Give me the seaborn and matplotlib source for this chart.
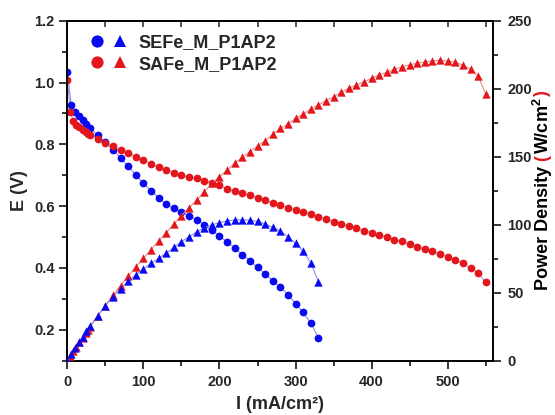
import matplotlib
matplotlib.use("Agg")
import matplotlib.pyplot as plt
import seaborn as sns
import pandas as pd
from matplotlib.lines import Line2D
from matplotlib.legend_handler import HandlerTuple
from matplotlib.ticker import MultipleLocator

# ---------------- data ----------------
se_current = [0, 5, 10, 15, 20, 25, 30, 40, 50, 60, 70, 80, 90, 100, 110, 120, 130, 140,
              150, 160, 170, 180, 190, 200, 210, 220, 230, 240, 250, 260, 270, 280, 290,
              300, 310, 320, 330]
se_voltage = [1.035, 0.928, 0.906, 0.892, 0.879, 0.867, 0.852, 0.829, 0.806, 0.783, 0.756,
              0.729, 0.700, 0.674, 0.650, 0.627, 0.606, 0.594, 0.582, 0.568, 0.555, 0.540,
              0.522, 0.503, 0.484, 0.465, 0.443, 0.424, 0.402, 0.381, 0.359, 0.338, 0.314,
              0.285, 0.256, 0.222, 0.175]
se_power = [0, 4.6, 9.2, 13.4, 17.6, 21.7, 25.6, 33.2, 40.3, 47.0, 53.0, 58.4, 63.1, 67.6,
            71.6, 75.4, 79.0, 83.3, 87.5, 91.2, 94.6, 97.6, 99.8, 101.6, 102.8, 103.6, 103.6,
            103.3, 102.4, 100.5, 98.0, 95.4, 91.2, 86.2, 80.5, 72.0, 58.2]

sa_current = [0, 4, 8, 12, 16, 20, 24, 27, 30, 40, 50, 60, 70, 80, 90, 100, 110, 120, 130,
              140, 150, 160, 170, 180, 190, 200, 210, 220, 230, 240, 250, 260, 270, 280, 290,
              300, 310, 320, 330, 340, 350, 360, 370, 380, 390, 400, 410, 420, 430, 440, 450,
              460, 470, 480, 490, 500, 510, 520, 530, 540, 550]
sa_voltage = [1.008, 0.906, 0.874, 0.863, 0.856, 0.847, 0.840, 0.833, 0.831, 0.817, 0.804,
              0.794, 0.783, 0.772, 0.759, 0.749, 0.737, 0.726, 0.716, 0.708, 0.700, 0.695,
              0.690, 0.683, 0.676, 0.667, 0.656, 0.649, 0.643, 0.635, 0.627, 0.619, 0.611,
              0.603, 0.595, 0.588, 0.581, 0.574, 0.565, 0.558, 0.550, 0.543, 0.536, 0.528,
              0.521, 0.514, 0.507, 0.499, 0.492, 0.486, 0.477, 0.469, 0.461, 0.454, 0.445,
              0.437, 0.426, 0.415, 0.400, 0.384, 0.354]
sa_power = [0, 3.6, 7.0, 10.4, 13.7, 16.9, 20.2, 22.5, 24.9, 32.9, 40.5, 48.0, 55.2, 62.3,
            68.9, 75.4, 81.6, 88.0, 94.2, 100.3, 106.6, 112.6, 118.0, 124.3, 130.4, 135.3,
            140.2, 145.1, 149.6, 153.7, 157.9, 161.8, 166.4, 170.9, 174.0, 178.2, 181.4,
            185.1, 188.0, 191.2, 194.1, 197.4, 200.3, 202.7, 205.2, 207.6, 210.1, 212.1,
            214.3, 216.2, 217.5, 218.7, 219.7, 220.4, 220.9, 220.4, 219.4, 217.4, 214.3,
            209.4, 195.9]

series_labels = ["SEFe_M_P1AP2", "SAFe_M_P1AP2"]
x_ticks = [0, 100, 200, 300, 400, 500]
e_ticks = [0.2, 0.4, 0.6, 0.8, 1.0, 1.2]
p_ticks = [0, 50, 100, 150, 200, 250]

se_df = pd.DataFrame({"I": se_current, "E": se_voltage, "P": se_power})
sa_df = pd.DataFrame({"I": sa_current, "E": sa_voltage, "P": sa_power})

# ---------------- style ----------------
sns.set_theme(style="ticks")
plt.rcParams["font.family"] = ["Liberation Sans", "DejaVu Sans"]
plt.rcParams["font.weight"] = "bold"
plt.rcParams["mathtext.fontset"] = "custom"
plt.rcParams["mathtext.rm"] = "Liberation Sans:bold"
plt.rcParams["mathtext.it"] = "Liberation Sans:bold"
plt.rcParams["mathtext.bf"] = "Liberation Sans:bold"
plt.rcParams["mathtext.default"] = "rm"

BLUE = "#0a0af2"
RED = "#e3161c"
BLUE_LINE = "#8c8ce6"
RED_LINE = "#f08a8a"
TICK_FS = 10.5
LABEL_FS = 13

fig = plt.figure(figsize=(5.55, 4.15), dpi=100)
ax = fig.add_axes([0.1213, 0.1308, 0.7676, 0.8193])
ax2 = ax.twinx()

circ_s = 31
tri_s = 36

# E curves (left axis, circles)
sns.lineplot(data=se_df, x="I", y="E", ax=ax, color=BLUE_LINE, linewidth=0.8,
             sort=False, estimator=None, zorder=2)
sns.lineplot(data=sa_df, x="I", y="E", ax=ax, color="#9aa0e0", linewidth=0.8,
             sort=False, estimator=None, zorder=2)
sns.scatterplot(data=se_df, x="I", y="E", ax=ax, color=BLUE, marker="o", s=circ_s,
                linewidth=0, zorder=3)
sns.scatterplot(data=sa_df, x="I", y="E", ax=ax, color=RED, marker="o", s=circ_s,
                linewidth=0, zorder=3)

# Power curves (right axis, triangles)
sns.lineplot(data=sa_df, x="I", y="P", ax=ax2, color=RED_LINE, linewidth=0.8,
             sort=False, estimator=None, zorder=2)
sns.lineplot(data=se_df, x="I", y="P", ax=ax2, color=BLUE_LINE, linewidth=0.8,
             sort=False, estimator=None, zorder=2)
sns.scatterplot(data=sa_df, x="I", y="P", ax=ax2, color=RED, marker="^", s=tri_s,
                linewidth=0, zorder=3)
sns.scatterplot(data=se_df, x="I", y="P", ax=ax2, color=BLUE, marker="^", s=tri_s,
                linewidth=0, zorder=3)

# axes limits / ticks
ax.set_xlim(0, 560)
ax.set_ylim(0.1, 1.2)
ax2.set_ylim(0, 250)
ax.set_xticks(x_ticks)
ax.set_yticks(e_ticks)
ax2.set_yticks(p_ticks)
ax.xaxis.set_minor_locator(MultipleLocator(50))
ax.yaxis.set_minor_locator(MultipleLocator(0.1))
ax2.yaxis.set_minor_locator(MultipleLocator(25))

for a in (ax, ax2):
    a.tick_params(which="major", direction="out", length=6, width=1.1, color="black",
                  labelsize=TICK_FS, pad=3)
    a.tick_params(which="minor", direction="out", length=3.5, width=1.1, color="black")
    for sp in a.spines.values():
        sp.set_linewidth(1.2)
        sp.set_color("black")
        sp.set_visible(True)
ax.tick_params(axis="x", pad=4)
ax2.tick_params(axis="y", pad=4)

ax.set_xticklabels(["0", "100", "200", "300", "400", "500"], fontweight="bold")
ax.set_yticklabels(["0.2", "0.4", "0.6", "0.8", "1.0", "1.2"], fontweight="bold")
ax2.set_yticklabels(["0", "50", "100", "150", "200", "250"], fontweight="bold")

# top ticks (inward, no labels)
top = ax.secondary_xaxis("top")
top.set_xticks(list(range(0, 600, 50)))
top.tick_params(direction="in", length=4, width=1.1, labeltop=False)
top.spines["top"].set_linewidth(1.2)

# axis labels
ax.set_xlabel("I (mA/cm²)", fontsize=LABEL_FS, fontweight="bold")
ax.set_ylabel("E (V)", fontsize=LABEL_FS, fontweight="bold")
ax2.set_ylabel("")
ax.xaxis.set_label_coords(0.5, -0.105)
ax.yaxis.set_label_coords(-0.092, 0.5)

# legend
h1 = (Line2D([], [], ls="none", marker="o", color=BLUE, ms=8.8, mew=0),
      Line2D([], [], ls="none", marker="^", color=BLUE, ms=9.2, mew=0))
h2 = (Line2D([], [], ls="none", marker="o", color=RED, ms=8.8, mew=0),
      Line2D([], [], ls="none", marker="^", color=RED, ms=9.2, mew=0))
leg = ax2.legend([h1, h2], series_labels,
                 handler_map={tuple: HandlerTuple(ndivide=None, pad=0)},
                 loc="upper left", bbox_to_anchor=(0.043, 0.960), borderaxespad=0,
                 borderpad=0, frameon=False, handlelength=2.55, handletextpad=0.36,
                 labelspacing=0.24, prop={"weight": "bold", "size": 13})

# right label with red parentheses
fig.canvas.draw()
renderer = fig.canvas.get_renderer()
pieces = [("Power Density", "black"), ("(", RED), ("W/cm$^{2}$", "black"), (")", RED)]
gap_px = [5, 1, 1]
xc = 543 / 555
texts = []
heights = []
for s, c in pieces:
    t = fig.text(xc, 0, s, rotation=90, ha="center", va="bottom", color=c,
                 fontsize=LABEL_FS, fontweight="bold")
    texts.append(t)
    heights.append(t.get_window_extent(renderer).height)
total = sum(heights) + sum(gap_px)
center_y = (415 - 190.5)
y = center_y - total / 2
for i, t in enumerate(texts):
    t.set_position((xc, y / 415))
    y += heights[i] + (gap_px[i] if i < len(gap_px) else 0)

fig.savefig("out.png", dpi=100)
